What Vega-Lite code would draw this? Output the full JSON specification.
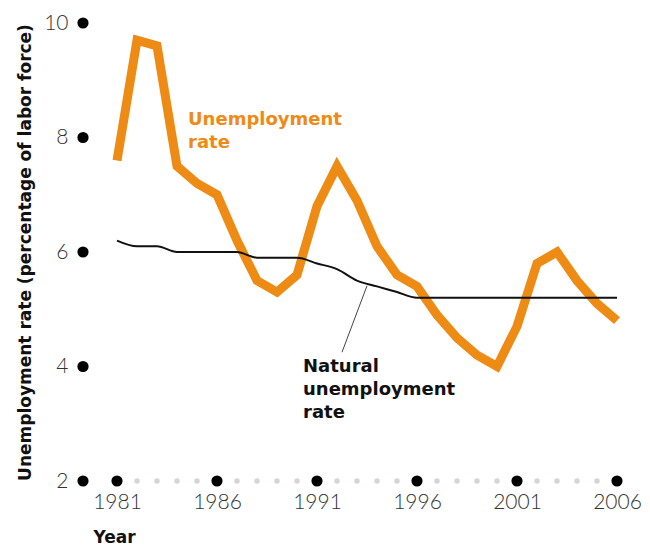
{
  "$schema": "https://vega.github.io/schema/vega-lite/v6.json",
  "autosize": {"type": "none"},
  "padding": {"left": 83, "top": 23, "right": 33, "bottom": 66},
  "width": 534,
  "height": 458,
  "background": "white",
  "config": {"view": {"stroke": null}},
  "datasets": {
    "rates": [
      {"year": 1981, "unemp": 7.6, "natural": 6.2},
      {"year": 1982, "unemp": 9.7, "natural": 6.1},
      {"year": 1983, "unemp": 9.6, "natural": 6.1},
      {"year": 1984, "unemp": 7.5, "natural": 6.0},
      {"year": 1985, "unemp": 7.2, "natural": 6.0},
      {"year": 1986, "unemp": 7.0, "natural": 6.0},
      {"year": 1987, "unemp": 6.2, "natural": 6.0},
      {"year": 1988, "unemp": 5.5, "natural": 5.9},
      {"year": 1989, "unemp": 5.3, "natural": 5.9},
      {"year": 1990, "unemp": 5.6, "natural": 5.9},
      {"year": 1991, "unemp": 6.8, "natural": 5.8},
      {"year": 1992, "unemp": 7.5, "natural": 5.7},
      {"year": 1993, "unemp": 6.9, "natural": 5.5},
      {"year": 1994, "unemp": 6.1, "natural": 5.4},
      {"year": 1995, "unemp": 5.6, "natural": 5.3},
      {"year": 1996, "unemp": 5.4, "natural": 5.2},
      {"year": 1997, "unemp": 4.9, "natural": 5.2},
      {"year": 1998, "unemp": 4.5, "natural": 5.2},
      {"year": 1999, "unemp": 4.2, "natural": 5.2},
      {"year": 2000, "unemp": 4.0, "natural": 5.2},
      {"year": 2001, "unemp": 4.7, "natural": 5.2},
      {"year": 2002, "unemp": 5.8, "natural": 5.2},
      {"year": 2003, "unemp": 6.0, "natural": 5.2},
      {"year": 2004, "unemp": 5.5, "natural": 5.2},
      {"year": 2005, "unemp": 5.1, "natural": 5.2},
      {"year": 2006, "unemp": 4.8, "natural": 5.2}
    ],
    "majorDots": [
      {"year": 1979.3, "rate": 2}, {"year": 1979.3, "rate": 4}, {"year": 1979.3, "rate": 6},
      {"year": 1979.3, "rate": 8}, {"year": 1979.3, "rate": 10},
      {"year": 1981, "rate": 2}, {"year": 1986, "rate": 2}, {"year": 1991, "rate": 2},
      {"year": 1996, "rate": 2}, {"year": 2001, "rate": 2}, {"year": 2006, "rate": 2}
    ],
    "minorDots": [
      {"year": 1982, "rate": 2}, {"year": 1983, "rate": 2}, {"year": 1984, "rate": 2}, {"year": 1985, "rate": 2},
      {"year": 1987, "rate": 2}, {"year": 1988, "rate": 2}, {"year": 1989, "rate": 2}, {"year": 1990, "rate": 2},
      {"year": 1992, "rate": 2}, {"year": 1993, "rate": 2}, {"year": 1994, "rate": 2}, {"year": 1995, "rate": 2},
      {"year": 1997, "rate": 2}, {"year": 1998, "rate": 2}, {"year": 1999, "rate": 2}, {"year": 2000, "rate": 2},
      {"year": 2002, "rate": 2}, {"year": 2003, "rate": 2}, {"year": 2004, "rate": 2}, {"year": 2005, "rate": 2}
    ],
    "labels": [
      {"year": 1984.55, "rate": 8.22, "label": "Unemployment\nrate", "series": "unemp"},
      {"year": 1990.3, "rate": 3.9, "label": "Natural\nunemployment\nrate", "series": "natural"}
    ],
    "leader": [
      {"year": 1993.5, "rate": 5.41, "year2": 1992.25, "rate2": 4.25}
    ]
  },
  "encoding": {
    "x": {
      "field": "year", "type": "quantitative",
      "scale": {"domain": [1979.3, 2006], "nice": false, "zero": false},
      "axis": {
        "title": "Year",
        "values": [1981, 1986, 1991, 1996, 2001, 2006],
        "format": "d",
        "domain": false, "ticks": false, "tickSize": 0, "grid": false,
        "labelFont": "Lato", "labelFontWeight": 300, "labelFontSize": 21, "labelColor": "#333333",
        "labelBaseline": "middle", "labelPadding": 21, "labelFlush": false,
        "titleFont": "DejaVu Sans", "titleFontWeight": "bold", "titleFontSize": 17, "titleColor": "#111111",
        "titleX": 10, "titleY": 56, "titleAlign": "left", "titleBaseline": "middle"
      }
    },
    "y": {
      "field": "rate", "type": "quantitative",
      "scale": {"domain": [2, 10], "nice": false, "zero": false},
      "axis": {
        "title": "Unemployment rate (percentage of labor force)",
        "values": [2, 4, 6, 8, 10],
        "domain": false, "ticks": false, "tickSize": 0, "grid": false,
        "labelFont": "Lato", "labelFontWeight": 300, "labelFontSize": 21, "labelColor": "#333333",
        "labelAlign": "right", "labelBaseline": "middle", "labelPadding": 15, "labelFlush": false,
        "titleFont": "DejaVu Sans", "titleFontWeight": "bold", "titleFontSize": 17, "titleColor": "#111111",
        "titleX": -58, "titleY": 229, "titleAngle": -90, "titleAlign": "center", "titleBaseline": "middle"
      }
    }
  },
  "layer": [
    {
      "data": {"name": "minorDots"},
      "mark": {"type": "point", "filled": true, "shape": "circle", "size": 30, "color": "#d9d2d6", "opacity": 1}
    },
    {
      "data": {"name": "majorDots"},
      "mark": {"type": "point", "filled": true, "shape": "circle", "size": 125, "color": "#000000", "opacity": 1}
    },
    {
      "data": {"name": "rates"},
      "mark": {"type": "line", "color": "#ee8b14", "strokeWidth": 9, "strokeJoin": "miter", "strokeCap": "butt"},
      "encoding": {"y": {"field": "unemp", "type": "quantitative"}}
    },
    {
      "data": {"name": "rates"},
      "mark": {"type": "line", "color": "#111111", "strokeWidth": 2, "interpolate": "monotone"},
      "encoding": {"y": {"field": "natural", "type": "quantitative"}}
    },
    {
      "data": {"name": "leader"},
      "mark": {"type": "rule", "color": "#444444", "strokeWidth": 1},
      "encoding": {
        "x2": {"field": "year2"},
        "y": {"field": "rate", "type": "quantitative"},
        "y2": {"field": "rate2"}
      }
    },
    {
      "data": {"name": "labels"},
      "mark": {"type": "text", "font": "DejaVu Sans", "fontWeight": "bold", "fontSize": 18, "align": "left", "baseline": "alphabetic", "lineBreak": "\n", "lineHeight": 23},
      "encoding": {
        "text": {"field": "label"},
        "color": {"field": "series", "type": "nominal", "scale": {"domain": ["unemp", "natural"], "range": ["#ee8b14", "#111111"]}, "legend": null}
      }
    }
  ]
}
